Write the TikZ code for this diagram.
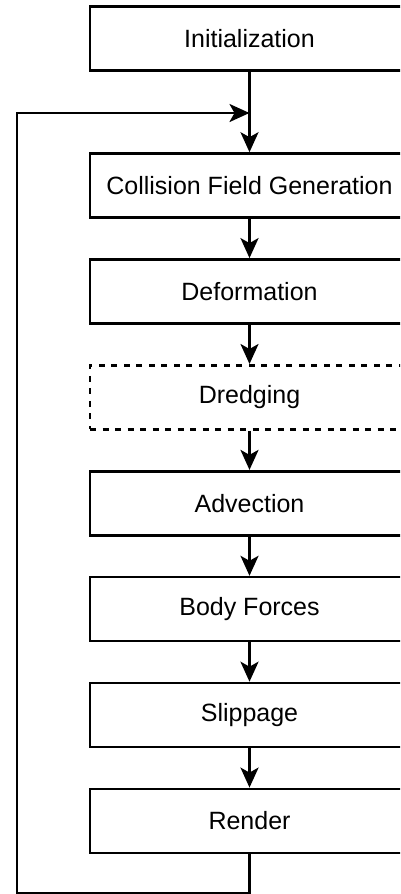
\documentclass[tikz,border=0pt]{standalone}
\usepackage{fontspec}
\setmainfont{Liberation Sans}
\usetikzlibrary{arrows.meta}
\begin{document}
\begin{tikzpicture}[x=1pt,y=-1pt,
  stepbox/.style={draw=black, line width=2.6pt, minimum width=319pt, minimum height=64pt, inner sep=0pt, font=\fontsize{25}{30}\selectfont, fill=white},
  dredgebox/.style={stepbox, dash pattern=on 6pt off 6.5pt},
  arr/.style={line width=2.6pt, -{Stealth[length=20pt,width=18pt,inset=5pt]}}]
\useasboundingbox (0,0) rectangle (400,894);
\clip (0,0) rectangle (400,894);
\node[stepbox] (init) at (249.5,38.5) {Initialization};
\node[stepbox] (coll) at (249.5,185.5) {Collision Field Generation};
\node[stepbox] (def) at (249.5,291.4) {Deformation};
\node[dredgebox] (dre) at (249.5,397.3) {Dredging};
\node[stepbox] (adv) at (249.5,503.2) {Advection};
\node[stepbox] (body) at (249.5,609.1) {Body Forces};
\node[stepbox] (slip) at (249.5,715) {Slippage};
\node[stepbox] (ren) at (249.5,820.9) {Render};
\coordinate (bl) at (17,893);
\coordinate (tl) at (17,113);
\coordinate (j) at (249.5,113);
\draw[arr] (init) -- (coll);
\draw[arr] (coll) -- (def);
\draw[arr] (def) -- (dre);
\draw[arr] (dre) -- (adv);
\draw[arr] (adv) -- (body);
\draw[arr] (body) -- (slip);
\draw[arr] (slip) -- (ren);
\draw[arr] (ren.south) -- (ren.south |- bl) -- (bl) -- (tl) -- (j);
\end{tikzpicture}
\end{document}
